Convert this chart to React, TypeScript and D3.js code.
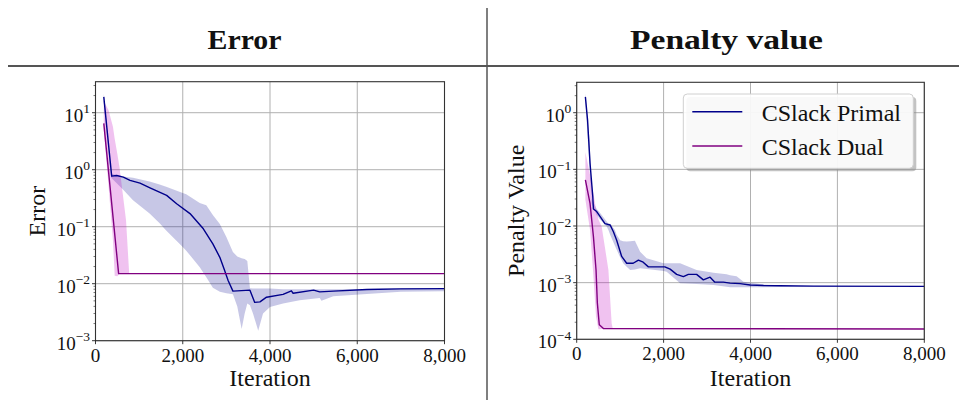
import React from 'react';
import * as d3 from 'd3';

const xTicks = [0, 2000, 4000, 6000, 8000];
const errTicks = [1e-3, 1e-2, 1e-1, 1, 10];
const penTicks = [1e-4, 1e-3, 1e-2, 1e-1, 1];
const errDomain = [1e-3, 35];
const penDomain = [1e-4, 3.44];

// Error panel, CSlack Primal
const errPrimalIter = [190, 371, 486, 638, 791, 1020, 1249, 1631, 1860, 2166, 2472, 2690, 2850, 2950, 3040, 3150, 3540, 3650, 3770, 3920, 4300, 4490, 4530, 5000, 5140, 5450, 6220, 7000, 8000];
const errPrimal = [19, 0.77, 0.79, 0.74, 0.65, 0.58, 0.48, 0.355, 0.253, 0.17, 0.092, 0.05, 0.029, 0.018, 0.0114, 0.0074, 0.0077, 0.0047, 0.0048, 0.0058, 0.0065, 0.0075, 0.0068, 0.0077, 0.0072, 0.0074, 0.0079, 0.0081, 0.0082];
const errPrimalBandIter = [190, 360, 630, 860, 1240, 1470, 1620, 2000, 2080, 2390, 2540, 2690, 2850, 3000, 3150, 3250, 3350, 3420, 3480, 3540, 3610, 3730, 3840, 4000, 4300, 4680, 5140, 5180, 5450, 6220, 7000, 8000];
const errPrimalLo = [15, 0.72, 0.45, 0.29, 0.17, 0.115, 0.086, 0.044, 0.038, 0.0195, 0.013, 0.0085, 0.0072, 0.0068, 0.0065, 0.004, 0.0016, 0.003, 0.0045, 0.0042, 0.003, 0.0015, 0.003, 0.0039, 0.0045, 0.0051, 0.0056, 0.005, 0.006, 0.0066, 0.0072, 0.0074];
const errPrimalHi = [22, 0.85, 0.76, 0.72, 0.62, 0.55, 0.5, 0.39, 0.37, 0.26, 0.237, 0.16, 0.112, 0.066, 0.036, 0.03, 0.028, 0.027, 0.025, 0.0083, 0.0082, 0.0082, 0.0082, 0.0082, 0.008, 0.008, 0.008, 0.008, 0.008, 0.0081, 0.0083, 0.0084];

// Error panel, CSlack Dual
const errDualIter = [190, 530, 8000];
const errDual = [6.5, 0.015, 0.015];
const errDualBandIter = [190, 300, 400, 440, 500, 550, 700, 770];
const errDualLo = [5, 0.5, 0.057, 0.0138, 0.0135, 0.015, 0.015, 0.015];
const errDualHi = [16, 11, 5.7, 3.5, 1.9, 1.1, 0.13, 0.016];

// Penalty panel, CSlack Primal
const penPrimalIter = [200, 250, 307, 370, 385, 460, 540, 650, 770, 845, 920, 1035, 1150, 1300, 1420, 1530, 1650, 1840, 2030, 2150, 2300, 2455, 2570, 2760, 2915, 3070, 3180, 3375, 3530, 3760, 3990, 4300, 4680, 5450, 8000];
const penPrimal = [1.9, 0.74, 0.128, 0.033, 0.02, 0.018, 0.0146, 0.011, 0.0104, 0.0079, 0.0056, 0.0029, 0.0022, 0.0022, 0.0025, 0.0023, 0.0019, 0.0019, 0.0019, 0.00173, 0.0014, 0.00128, 0.0014, 0.0014, 0.00112, 0.00125, 0.00102, 0.00102, 0.00098, 0.00096, 0.00091, 0.00089, 0.00088, 0.00087, 0.00086];
const penPrimalBandIter = [200, 300, 345, 460, 540, 690, 730, 770, 880, 920, 1000, 1070, 1150, 1230, 1340, 1460, 1610, 2000, 2070, 2380, 2760, 3150, 3450, 3530, 3680, 3840, 4300, 4680, 5000, 8000];
const penPrimalLo = [1.5, 0.1, 0.025, 0.0155, 0.013, 0.0098, 0.0085, 0.007, 0.0045, 0.0038, 0.0028, 0.0022, 0.0019, 0.00167, 0.0017, 0.0018, 0.00175, 0.0016, 0.00156, 0.00098, 0.00095, 0.00091, 0.00085, 0.00083, 0.00083, 0.00083, 0.00083, 0.00084, 0.00085, 0.00085];
const penPrimalHi = [2.2, 0.3, 0.03, 0.02, 0.017, 0.012, 0.011, 0.011, 0.0085, 0.007, 0.0056, 0.0054, 0.0053, 0.0054, 0.0055, 0.0035, 0.0027, 0.0022, 0.0022, 0.0022, 0.00167, 0.0015, 0.0014, 0.00135, 0.0013, 0.00104, 0.00093, 0.0009, 0.00088, 0.00086];

// Penalty panel, CSlack Dual
const penDualIter = [200, 307, 385, 445, 475, 520, 615, 8000];
const penDual = [0.065, 0.025, 0.0065, 0.00167, 0.00044, 0.00018, 0.000155, 0.000152];
const penDualBandIter = [200, 307, 385, 445, 500, 575, 730, 805, 830];
const penDualLo = [0.029, 0.0085, 0.0013, 0.00025, 0.00015, 0.000152, 0.000152, 0.000152, 0.000152];
const penDualHi = [0.2, 0.08, 0.038, 0.02, 0.013, 0.0098, 0.00167, 0.00019, 0.000155];

const seriesNames = ['CSlack Primal', 'CSlack Dual'];
const lineColors = ['#00008b', '#800080'];
const fillColors = ['#00008b', '#bf00bf'];
const fillOpacity = [0.22, 0.24];

const FONT = '"Liberation Serif", "Times New Roman", serif';

type Series = { iter: number[]; val: number[]; bIter: number[]; lo: number[]; hi: number[] };

const superscript = (v: number) => {
  const e = Math.round(Math.log10(v));
  return e < 0 ? '\u2212' + Math.abs(e) : String(e);
};

function Panel(props: {
  id: string; left: number; right: number; top: number; bottom: number;
  domain: number[]; ticks: number[]; ylabel: string; ylabelX: number;
  series: Series[]; legend?: boolean;
}) {
  const { id, left, right, top, bottom, domain, ticks, ylabel, ylabelX, series, legend } = props;
  const x = d3.scaleLinear().domain([0, 8000]).range([left, right]);
  const y = d3.scaleLog().domain(domain).range([bottom, top]);

  const line = d3.line<[number, number]>().x(d => x(d[0])).y(d => y(d[1]));
  const area = d3.area<[number, number, number]>()
    .x(d => x(d[0])).y0(d => y(d[1])).y1(d => y(d[2]));

  const minor: number[] = [];
  const k0 = Math.floor(Math.log10(domain[0]));
  const k1 = Math.ceil(Math.log10(domain[1]));
  for (let k = k0; k <= k1; k++) {
    for (let m = 2; m <= 9; m++) {
      const v = m * Math.pow(10, k);
      if (v > domain[0] && v < domain[1]) minor.push(v);
    }
  }

  return (
    <g>
      <defs>
        <clipPath id={id}>
          <rect x={left} y={top} width={right - left} height={bottom - top} />
        </clipPath>
      </defs>
      {/* grid */}
      {xTicks.map(t => (
        <line key={'gx' + t} x1={x(t)} x2={x(t)} y1={top} y2={bottom} stroke="#b0b0b0" strokeWidth={1} />
      ))}
      {ticks.map(t => (
        <line key={'gy' + t} x1={left} x2={right} y1={y(t)} y2={y(t)} stroke="#b0b0b0" strokeWidth={1} />
      ))}
      <g clipPath={`url(#${id})`}>
        {series.map((s, i) => (
          <path key={'b' + i}
            d={area(s.bIter.map((it, j) => [it, s.lo[j], s.hi[j]] as [number, number, number])) || ''}
            fill={fillColors[i]} fillOpacity={fillOpacity[i]} stroke="none" />
        ))}
        {series.map((s, i) => (
          <path key={'l' + i}
            d={line(s.iter.map((it, j) => [it, s.val[j]] as [number, number])) || ''}
            fill="none" stroke={lineColors[i]} strokeWidth={1.4} strokeLinejoin="round" />
        ))}
      </g>
      {/* spines */}
      <rect x={left} y={top} width={right - left} height={bottom - top} fill="none" stroke="#333" strokeWidth={1.1} />
      {/* x ticks */}
      {xTicks.map(t => (
        <g key={'xt' + t}>
          <line x1={x(t)} x2={x(t)} y1={bottom} y2={bottom + 3.5} stroke="#222" strokeWidth={0.9} />
          <text x={x(t)} y={bottom + 21} textAnchor="middle" fontFamily={FONT} fontSize={19} fill="#111">
            {d3.format(',')(t)}
          </text>
        </g>
      ))}
      {/* y ticks */}
      {ticks.map(t => (
        <g key={'yt' + t}>
          <line x1={left - 3.5} x2={left} y1={y(t)} y2={y(t)} stroke="#222" strokeWidth={0.9} />
          <text x={left - 5.5} y={y(t) + 9} textAnchor="end" fontFamily={FONT} fontSize={19} fill="#111">
            10<tspan fontSize={13.5} dy={-8.4}>{superscript(t)}</tspan>
          </text>
        </g>
      ))}
      {minor.map(v => (
        <line key={'mt' + v} x1={left - 2} x2={left} y1={y(v)} y2={y(v)} stroke="#222" strokeWidth={0.6} />
      ))}
      {/* axis labels */}
      <text x={(left + right) / 2} y={386} textAnchor="middle" fontFamily={FONT} fontSize={24} fill="#111">Iteration</text>
      <text transform={`translate(${ylabelX},${(top + bottom) / 2}) rotate(-90)`} textAnchor="middle"
        fontFamily={FONT} fontSize={24} fill="#111">{ylabel}</text>
      {legend && (
        <g>
          <rect x={686.3} y={97} width={230} height={74.3} rx={4} fill="#888" fillOpacity={0.5} />
          <rect x={683.3} y={94} width={230} height={74.3} rx={4} fill="#fff" fillOpacity={0.9} stroke="#d0d0d0" strokeWidth={1} />
          {seriesNames.map((n, i) => (
            <g key={n}>
              <line x1={692.3} x2={742.3} y1={111.7 + i * 34.3} y2={111.7 + i * 34.3} stroke={lineColors[i]} strokeWidth={1.5} />
              <text x={761.7} y={120.5 + i * 34.3} fontFamily={FONT} fontSize={24} fill="#111">{n}</text>
            </g>
          ))}
        </g>
      )}
    </g>
  );
}

export default function App() {
  const errSeries: Series[] = [
    { iter: errPrimalIter, val: errPrimal, bIter: errPrimalBandIter, lo: errPrimalLo, hi: errPrimalHi },
    { iter: errDualIter, val: errDual, bIter: errDualBandIter, lo: errDualLo, hi: errDualHi },
  ];
  const penSeries: Series[] = [
    { iter: penPrimalIter, val: penPrimal, bIter: penPrimalBandIter, lo: penPrimalLo, hi: penPrimalHi },
    { iter: penDualIter, val: penDual, bIter: penDualBandIter, lo: penDualLo, hi: penDualHi },
  ];
  return (
    <svg width={959} height={400} style={{ position: 'absolute', left: 0, top: 0, background: '#fff' }}>
      <rect width={959} height={400} fill="#fff" />
      <text x={244.5} y={49.3} textAnchor="middle" fontFamily={FONT} fontWeight="bold" fontSize={28}
        textLength={74} lengthAdjust="spacingAndGlyphs" fill="#111">Error</text>
      <text x={726.5} y={49.3} textAnchor="middle" fontFamily={FONT} fontWeight="bold" fontSize={28}
        textLength={193} lengthAdjust="spacingAndGlyphs" fill="#111">Penalty value</text>
      <line x1={8} x2={959} y1={66} y2={66} stroke="#555" strokeWidth={2} />
      <line x1={487} x2={487} y1={8} y2={400} stroke="#555" strokeWidth={1.5} />
      <Panel id="clipErr" left={95.5} right={444.5} top={81.7} bottom={340.7} domain={errDomain}
        ticks={errTicks} ylabel="Error" ylabelX={45} series={errSeries} />
      <Panel id="clipPen" left={576.7} right={924.3} top={82.3} bottom={339.3} domain={penDomain}
        ticks={penTicks} ylabel="Penalty Value" ylabelX={524} series={penSeries} legend />
    </svg>
  );
}
